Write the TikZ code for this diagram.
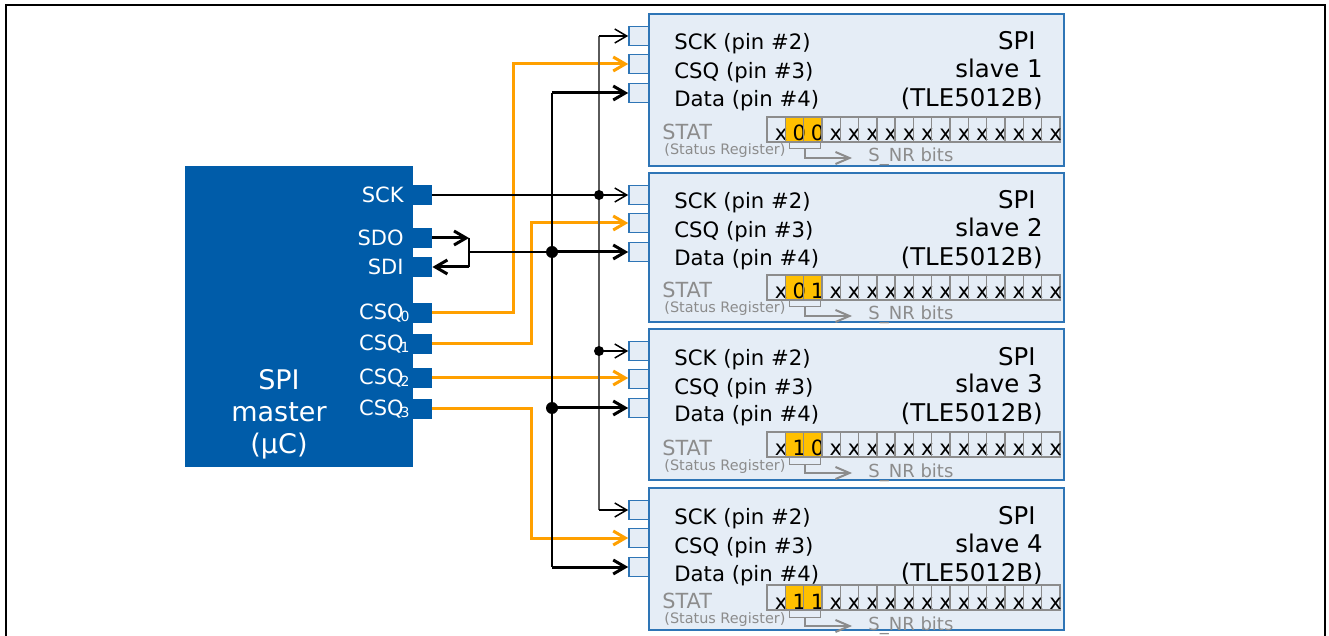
\documentclass[tikz,border=0pt]{standalone}
\usepackage{fontspec}
\setmainfont{DejaVu Sans}
\usetikzlibrary{arrows.meta}

\definecolor{mblue}{RGB}{0,92,169}
\definecolor{sfill}{RGB}{229,237,246}
\definecolor{sdraw}{RGB}{46,117,182}
\definecolor{csqorange}{RGB}{255,160,0}
\definecolor{bitgold}{RGB}{255,192,0}
\definecolor{statgrey}{RGB}{140,140,140}
\definecolor{busgrey}{RGB}{90,90,90}

\tikzset{
  barb/.style={-{Straight Barb[length=6pt,width=7pt]}},
  mpin/.style={fill=mblue, minimum width=9.5pt, minimum height=10pt, inner sep=0pt},
  mlabel/.style={text=white, font=\fontsize{10.5}{12}\selectfont, anchor=east, inner sep=0pt},
  mtitle/.style={text=white, font=\fontsize{13.5}{16}\selectfont, align=center, inner sep=0pt},
  slavebox/.style={fill=sfill, draw=sdraw, line width=0.8pt},
  spin/.style={fill=sfill, draw=sdraw, line width=0.8pt, minimum width=10pt, minimum height=9.5pt, inner sep=0pt},
  stext/.style={font=\fontsize{10.6}{12}\selectfont, inner sep=0pt, anchor=base west},
  sname/.style={font=\fontsize{12.2}{14}\selectfont, inner sep=0pt, anchor=base east},
  stat/.style={text=statgrey, inner sep=0pt, anchor=base west},
  cellline/.style={draw=statgrey, line width=0.7pt},
  celltext/.style={font=\fontsize{10.5}{12}\selectfont, inner sep=0pt, anchor=base},
  sckwire/.style={barb, line width=0.75pt},
  busline/.style={draw=busgrey, line width=0.75pt},
  datawire/.style={barb, line width=1.5pt},
  csqwire/.style={barb, draw=csqorange, line width=1.5pt},
  dot/.style={circle, fill, inner sep=0pt, minimum size=#1},
  dot/.default=6pt
}

\begin{document}
\begin{tikzpicture}[x=0.5pt, y=-0.5pt]
  \useasboundingbox (0,0) rectangle (1329,636);

  % Рамка
  \draw[line width=1.3pt] (6,660) -- (6,5) -- (1325,5) -- (1325,660);

  % Ведущее устройство
  \fill[mblue] (185,166) rectangle (413,467);
  \node[mtitle] (mtitle) at (279,414) {SPI\\master\\(µC)};
  \foreach \n/\y in {sck/195, sdo/238, sdi/267, csq0/313, csq1/344, csq2/378, csq3/409}
    \node[mpin] (m\n) at (422.5,\y) {};
  \node[mlabel] at (404,195) {SCK};
  \node[mlabel] at (404,238) {SDO};
  \node[mlabel] at (404,267) {SDI};
  \foreach \k/\y in {0/313, 1/344, 2/378, 3/409}
    \node[mlabel] at (410,\y) {CSQ\kern-1.5pt\raisebox{-1pt}{\fontsize{7}{8}\selectfont\k}};

  % Ведомые устройства
  \foreach \i/\ya/\yb/\yr/\ba/\bb in {1/14/166/117/0/0, 2/173/322/275/0/1, 3/329/480/432/1/0, 4/488/630/585/1/1}{
    \draw[slavebox] (649,\ya) rectangle (1064,\yb);
    \node[spin] (s\i-sck) at (639,\ya+22) {};
    \node[spin] (s\i-csq) at (639,\ya+50) {};
    \node[spin] (s\i-dat) at (639,\ya+79) {};
    \node[stext] at (674,\ya+36) {SCK (pin \#2)};
    \node[stext] at (674,\ya+65) {CSQ (pin \#3)};
    \node[stext] at (674,\ya+93) {Data (pin \#4)};
    \node[sname] at (1036,\ya+36) {SPI};
    \node[sname] at (1043,\ya+64) {slave \i};
    \node[sname] at (1043,\ya+93) {(TLE5012B)};
    % регистр STAT
    \node[stat, font=\fontsize{10.4}{12}\selectfont] at (662,\yr+23) {STAT};
    \node[stat, font=\fontsize{7.2}{9}\selectfont] at (664,\yr+38) {(Status Register)};
    \node[stat, font=\fontsize{9}{11}\selectfont] at (868,\yr+45) {S\_NR bits};
    \fill[bitgold] (785.3,\yr) rectangle (821.9,\yr+25);
    \foreach \k in {0,...,15}{
      \draw[cellline] (767+\k*18.3,\yr) rectangle +(18.3,25);
      \node[celltext] at (781+\k*18.3,\yr+24) {\ifcase\k\relax x\or\ba\or\bb\else x\fi};
    }
    \draw[draw=statgrey, line width=0.5pt] (789,\yr+25) -- (789,\yr+32) -- (820,\yr+32) -- (820,\yr+25);
    \draw[draw=statgrey, line width=1pt, -{Straight Barb[length=7pt,width=6pt]}]
      (804.5,\yr+32) -- (804.5,\yr+41) -- (852,\yr+41);
  }

  % Линии CSQ
  \coordinate (cbus0) at (513,0);
  \coordinate (cbus1) at (531,0);
  \draw[csqwire] (mcsq0.east) -| (cbus0 |- s1-csq) -- (s1-csq.west);
  \draw[csqwire] (mcsq1.east) -| (cbus1 |- s2-csq) -- (s2-csq.west);
  \draw[csqwire] (mcsq2.east) -- (mcsq2.east -| s3-csq.west);
  \draw[csqwire] (mcsq3.east) -| (cbus1 |- s4-csq) -- (s4-csq.west);

  % Линии SCK
  \coordinate (sckbus) at (599,0);
  \draw[busline] (sckbus |- s1-sck) -- (sckbus |- s4-sck);
  \draw[sckwire] (msck.east) -- (msck.east -| s2-sck.west);
  \foreach \i in {1,3,4}
    \draw[sckwire] (sckbus |- s\i-sck) -- (s\i-sck.west);
  \node[dot=5pt] at (sckbus |- s2-sck) {};
  \node[dot=5pt] at (sckbus |- s3-sck) {};

  % Линии данных
  \coordinate (databus) at (552,0);
  \coordinate (sdojoin) at (469,0);
  \draw[datawire] (msdo.east) -- (sdojoin |- msdo);
  \draw[line width=1pt] (sdojoin |- msdo) -- (sdojoin |- msdi);
  \draw[datawire] (sdojoin |- msdi) -- (msdi.east);
  \draw[line width=1pt] (sdojoin |- s2-dat) -- (databus |- s2-dat);
  \draw[line width=1pt] (databus |- s1-dat) -- (databus |- s4-dat);
  \foreach \i in {1,...,4}
    \draw[datawire] (databus |- s\i-dat) -- (s\i-dat.west);
  \node[dot] at (databus |- s2-dat) {};
  \node[dot] at (databus |- s3-dat) {};
\end{tikzpicture}
\end{document}
